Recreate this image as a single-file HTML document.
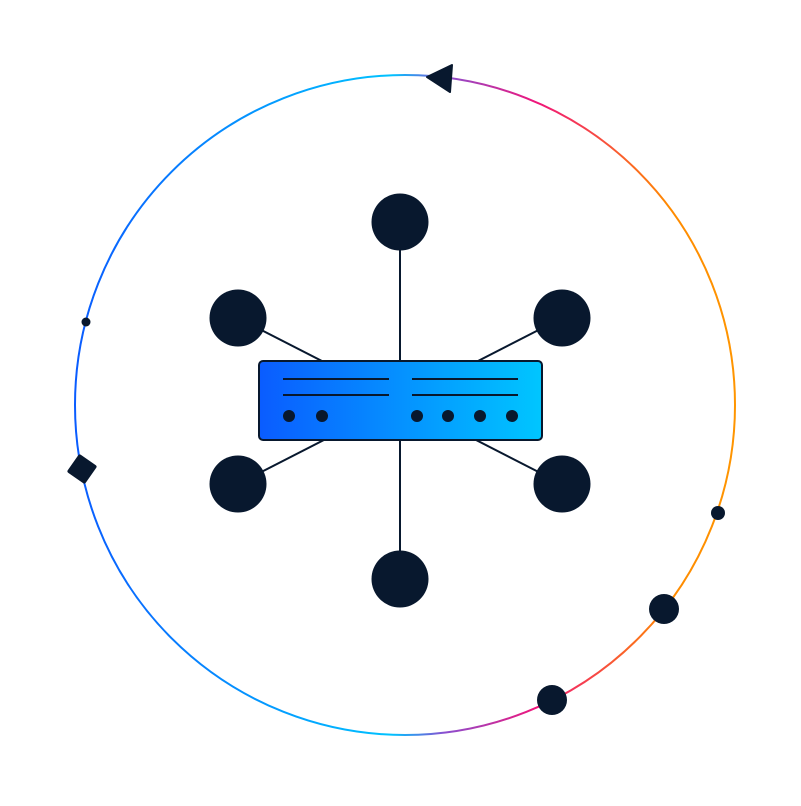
<!DOCTYPE html>
<html><head><style>html,body{margin:0;padding:0;background:#fff}</style></head><body>
<svg width="801" height="801" viewBox="0 0 801 801" xmlns="http://www.w3.org/2000/svg">
<defs>
<linearGradient id="ring" x1="75" y1="0" x2="735" y2="0" gradientUnits="userSpaceOnUse">
<stop offset="0" stop-color="#0a5cff"/>
<stop offset="0.48" stop-color="#00c2ff"/>
<stop offset="0.56" stop-color="#8a4fd0"/>
<stop offset="0.7" stop-color="#f0157a"/>
<stop offset="0.9" stop-color="#ff8a00"/>
<stop offset="1" stop-color="#ff9500"/>
</linearGradient>
<linearGradient id="box" x1="0" y1="0" x2="1" y2="0">
<stop offset="0" stop-color="#0a5cff"/>
<stop offset="1" stop-color="#00c6ff"/>
</linearGradient>
</defs>
<circle cx="405" cy="405" r="330" fill="none" stroke="url(#ring)" stroke-width="2"/>
<g stroke="#08182e" stroke-width="2">
<line x1="400" y1="222" x2="400" y2="579"/>
<line x1="238" y1="318" x2="562" y2="484"/>
<line x1="562" y1="318" x2="238" y2="484"/>
</g>
<g fill="#08182e">
<circle cx="400" cy="222" r="28.5"/>
<circle cx="238" cy="318" r="28.5"/>
<circle cx="562" cy="318" r="28.5"/>
<circle cx="238" cy="484" r="28.5"/>
<circle cx="562" cy="484" r="28.5"/>
<circle cx="400" cy="579" r="28.5"/>
<circle cx="86" cy="322" r="4.5"/>
<circle cx="718" cy="513" r="7"/>
<circle cx="664" cy="609" r="15"/>
<circle cx="552" cy="700" r="15"/>
<polygon points="427,77 452,65 450,92" stroke="#08182e" stroke-width="2" stroke-linejoin="round"/>
<rect x="71" y="458" width="22" height="22" rx="2" transform="rotate(35 82 469)"/>
</g>
<rect x="259" y="361" width="283" height="79" rx="4" fill="url(#box)" stroke="#08182e" stroke-width="2"/>
<g stroke="#08182e" stroke-width="2">
<line x1="283" y1="379" x2="389" y2="379"/>
<line x1="283" y1="395" x2="389" y2="395"/>
<line x1="412" y1="379" x2="518" y2="379"/>
<line x1="412" y1="395" x2="518" y2="395"/>
</g>
<g fill="#08182e">
<circle cx="289" cy="416" r="6"/>
<circle cx="322" cy="416" r="6"/>
<circle cx="417" cy="416" r="6"/>
<circle cx="448" cy="416" r="6"/>
<circle cx="480" cy="416" r="6"/>
<circle cx="512" cy="416" r="6"/>
</g>
</svg>
</body></html>
